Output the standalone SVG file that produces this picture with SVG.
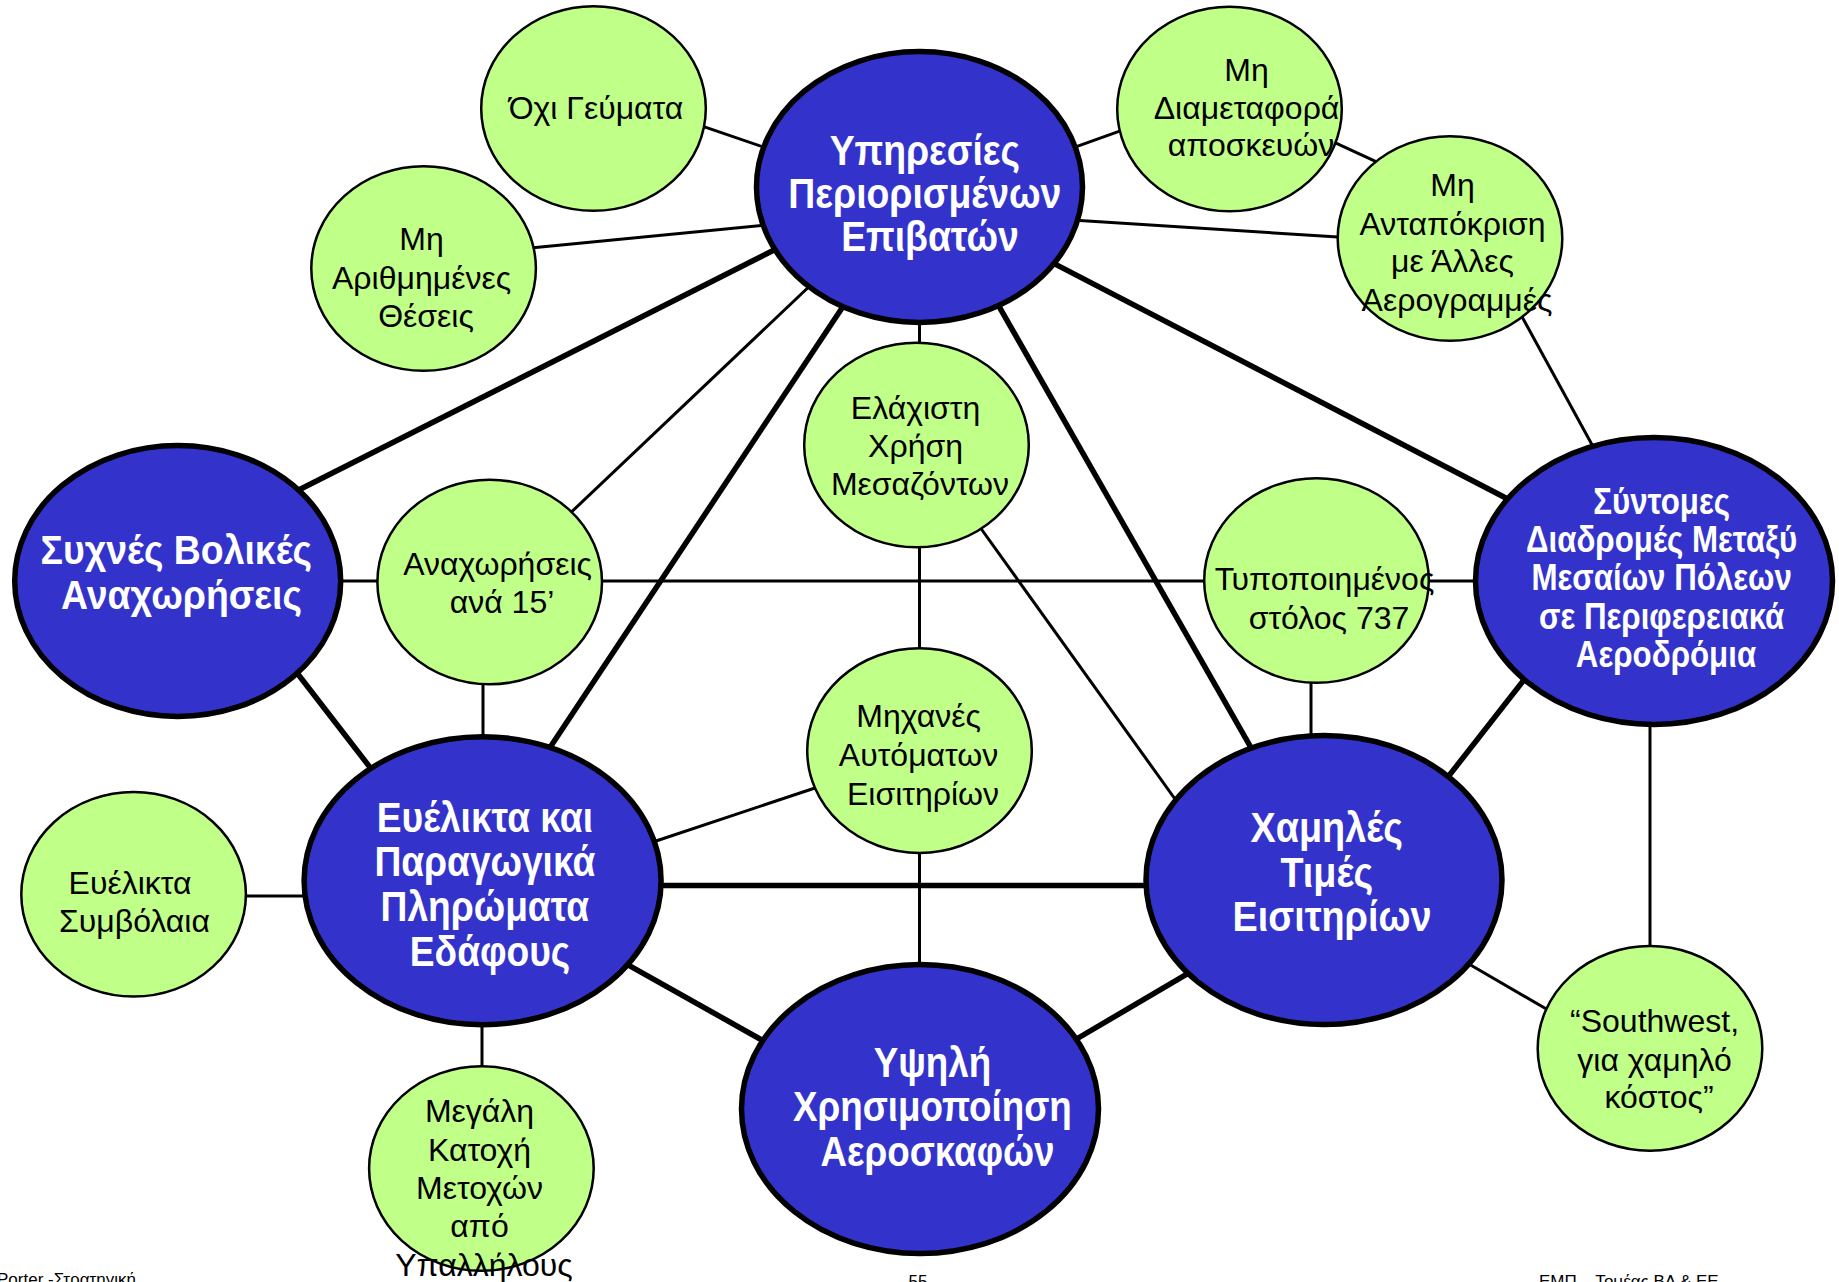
<svg xmlns="http://www.w3.org/2000/svg" width="1839" height="1282" viewBox="0 0 1839 1282">
  <style>
    .core { fill: #3333CC; stroke: #000; stroke-width: 5.5; }
    .act { fill: #C0FF88; stroke: #000; stroke-width: 2.5; }
    .ct { font-family: "Liberation Sans", Arial, sans-serif; font-weight: bold; fill: #fff; text-anchor: middle; }
    .at { font-family: "Liberation Sans", Arial, sans-serif; font-size: 32px; fill: #000; text-anchor: middle; }
    .thick { stroke: #000; stroke-width: 5.5; fill: none; }
    .thin { stroke: #000; stroke-width: 3; fill: none; }
    .foot { font-family: "Liberation Sans", Arial, sans-serif; font-size: 17px; fill: #000; }
  </style>
  <rect width="1839" height="1282" fill="#fff"/>

  <!-- links between activities -->
  <g id="connectors">
    <!-- thick links between core themes -->
    <line class="thick" x1="293.7" y1="492.5" x2="783" y2="245.5"/>
    <line class="thick" x1="545.5" y1="754.3" x2="847.5" y2="299.7"/>
    <line class="thick" x1="995" y1="299.3" x2="1255" y2="754.7"/>
    <line class="thick" x1="1046" y1="259.4" x2="1515" y2="502.8"/>
    <line class="thick" x1="294" y1="669" x2="376.7" y2="776"/>
    <line class="thick" x1="655" y1="885.5" x2="1152" y2="885.5"/>
    <line class="thick" x1="624" y1="962.6" x2="770.7" y2="1045"/>
    <line class="thick" x1="1068" y1="1044" x2="1196.6" y2="968.4"/>
    <line class="thick" x1="1444.8" y1="781" x2="1527" y2="676"/>
    <!-- thin links to supporting activities -->
    <line class="thin" x1="695" y1="123.7" x2="770" y2="149.3"/>
    <line class="thin" x1="528" y1="248.3" x2="765" y2="225.2"/>
    <line class="thin" x1="1068" y1="149.7" x2="1128" y2="128.2"/>
    <line class="thin" x1="1330" y1="140.3" x2="1382" y2="164.4"/>
    <line class="thin" x1="1072" y1="219.9" x2="1346" y2="237.6"/>
    <line class="thin" x1="1517" y1="307.6" x2="1596" y2="452"/>
    <line class="thin" x1="919.5" y1="187" x2="919.5" y2="1109"/>
    <line class="thin" x1="815" y1="281" x2="563" y2="520"/>
    <line class="thin" x1="977" y1="523" x2="1180" y2="806"/>
    <line class="thin" x1="300" y1="581" x2="1480" y2="581"/>
    <line class="thin" x1="483" y1="660" x2="483" y2="760"/>
    <line class="thin" x1="1311" y1="660" x2="1311" y2="760"/>
    <line class="thin" x1="650" y1="843" x2="824" y2="785"/>
    <line class="thin" x1="240" y1="896" x2="310" y2="896"/>
    <line class="thin" x1="482" y1="1020" x2="482" y2="1075"/>
    <line class="thin" x1="1650" y1="720" x2="1650" y2="950"/>
    <line class="thin" x1="1462" y1="960" x2="1555" y2="1014"/>
  </g>

  <!-- core themes -->
  <g id="node-limited-service">
    <ellipse class="core" cx="919.5" cy="187" rx="163" ry="135.5"/>
    <text class="ct" font-size="42" transform="translate(930 0) scale(0.89 1)">
      <tspan x="0" y="165">Υπηρεσίες</tspan>
      <tspan x="0" y="208">Περιορισμένων</tspan>
      <tspan x="0" y="251">Επιβατών</tspan>
    </text>
  </g>
  <g id="node-frequent-departures">
    <ellipse class="core" cx="177.7" cy="581" rx="163" ry="135.5"/>
    <text class="ct" font-size="40" transform="translate(181.5 0) scale(0.935 1)">
      <tspan x="0" y="564">Συχνές Βολικές</tspan>
      <tspan x="0" y="609">Αναχωρήσεις</tspan>
    </text>
  </g>
  <g id="node-short-haul">
    <ellipse class="core" cx="1654" cy="581" rx="178.5" ry="143.5"/>
    <text class="ct" font-size="37" transform="translate(1666 0) scale(0.845 1)">
      <tspan x="0" y="514">Σύντομες</tspan>
      <tspan x="0" y="552">Διαδρομές Μεταξύ</tspan>
      <tspan x="0" y="590">Μεσαίων Πόλεων</tspan>
      <tspan x="0" y="629">σε Περιφερειακά</tspan>
      <tspan x="0" y="667">Αεροδρόμια</tspan>
    </text>
  </g>
  <g id="node-ground-crews">
    <ellipse class="core" cx="482.6" cy="880.7" rx="178.5" ry="144"/>
    <text class="ct" font-size="42" transform="translate(490 0) scale(0.885 1)">
      <tspan x="0" y="832">Ευέλικτα και</tspan>
      <tspan x="0" y="876">Παραγωγικά</tspan>
      <tspan x="0" y="921">Πληρώματα</tspan>
      <tspan x="0" y="966">Εδάφους</tspan>
    </text>
  </g>
  <g id="node-low-fares">
    <ellipse class="core" cx="1324" cy="880" rx="178" ry="144.5"/>
    <text class="ct" font-size="42" transform="translate(1332 0) scale(0.9 1)">
      <tspan x="0" y="842">Χαμηλές</tspan>
      <tspan x="0" y="887">Τιμές</tspan>
      <tspan x="0" y="931">Εισιτηρίων</tspan>
    </text>
  </g>
  <g id="node-aircraft-use">
    <ellipse class="core" cx="920" cy="1109" rx="178.5" ry="144.5"/>
    <text class="ct" font-size="42" transform="translate(937.5 0) scale(0.875 1)">
      <tspan x="0" y="1077">Υψηλή</tspan>
      <tspan x="0" y="1121">Χρησιμοποίηση</tspan>
      <tspan x="0" y="1166">Αεροσκαφών</tspan>
    </text>
  </g>

  <!-- supporting activities -->
  <g id="node-no-meals">
    <ellipse class="act" cx="593.5" cy="108.5" rx="112.3" ry="102.3"/>
    <text class="at"><tspan x="596" y="118.5">Όχι Γεύματα</tspan></text>
  </g>
  <g id="node-unassigned-seats">
    <ellipse class="act" cx="423.6" cy="268.5" rx="112.3" ry="102.3"/>
    <text class="at">
      <tspan x="426" y="250">Μη</tspan>
      <tspan x="426" y="288.5">Αριθμημένες</tspan>
      <tspan x="426" y="327">Θέσεις</tspan>
    </text>
  </g>
  <g id="node-no-baggage-transfer">
    <ellipse class="act" cx="1229.5" cy="109" rx="112.3" ry="102.3"/>
    <text class="at">
      <tspan x="1251" y="81">Μη</tspan>
      <tspan x="1251" y="118.5">Διαμεταφορά</tspan>
      <tspan x="1251" y="156">αποσκευών</tspan>
    </text>
  </g>
  <g id="node-no-connections">
    <ellipse class="act" cx="1450" cy="238.5" rx="112.3" ry="102.3"/>
    <text class="at">
      <tspan x="1457" y="196">Μη</tspan>
      <tspan x="1457" y="234.5">Ανταπόκριση</tspan>
      <tspan x="1457" y="272">με Άλλες</tspan>
      <tspan x="1457" y="311">Αερογραμμές</tspan>
    </text>
  </g>
  <g id="node-few-agents">
    <ellipse class="act" cx="916.5" cy="445" rx="112.3" ry="102.3"/>
    <text class="at">
      <tspan x="920" y="418.7">Ελάχιστη</tspan>
      <tspan x="920" y="457">Χρήση</tspan>
      <tspan x="920" y="495">Μεσαζόντων</tspan>
    </text>
  </g>
  <g id="node-15-min-departures">
    <ellipse class="act" cx="489.7" cy="582" rx="112.3" ry="102.3"/>
    <text class="at">
      <tspan x="502" y="574.7">Αναχωρήσεις</tspan>
      <tspan x="502" y="613">ανά 15’</tspan>
    </text>
  </g>
  <g id="node-737-fleet">
    <ellipse class="act" cx="1316.5" cy="580.5" rx="112.3" ry="102.3"/>
    <text class="at">
      <tspan x="1329" y="590">Τυποποιημένος</tspan>
      <tspan x="1329" y="628.6">στόλος 737</tspan>
    </text>
  </g>
  <g id="node-ticket-machines">
    <ellipse class="act" cx="919.5" cy="750.6" rx="112.3" ry="102.3"/>
    <text class="at">
      <tspan x="923" y="727">Μηχανές</tspan>
      <tspan x="923" y="766">Αυτόματων</tspan>
      <tspan x="923" y="804.5">Εισιτηρίων</tspan>
    </text>
  </g>
  <g id="node-flexible-contracts">
    <ellipse class="act" cx="133.6" cy="894.3" rx="112.3" ry="102.3"/>
    <text class="at">
      <tspan x="134.5" y="893.7">Ευέλικτα</tspan>
      <tspan x="134.5" y="932">Συμβόλαια</tspan>
    </text>
  </g>
  <g id="node-employee-ownership">
    <ellipse class="act" cx="481.4" cy="1168.5" rx="112.3" ry="102.3"/>
    <text class="at">
      <tspan x="484" y="1122">Μεγάλη</tspan>
      <tspan x="484" y="1161">Κατοχή</tspan>
      <tspan x="484" y="1198.6">Μετοχών</tspan>
      <tspan x="484" y="1237">από</tspan>
      <tspan x="484" y="1276">Υπαλλήλους</tspan>
    </text>
  </g>
  <g id="node-southwest-quote">
    <ellipse class="act" cx="1650" cy="1048.4" rx="112.3" ry="102.3"/>
    <text class="at">
      <tspan x="1659" y="1032">“Southwest,</tspan>
      <tspan x="1659" y="1071">για χαμηλό</tspan>
      <tspan x="1659" y="1108">κόστος”</tspan>
    </text>
  </g>

  <!-- page footer -->
  <g id="footer">
    <text class="foot" x="-3" y="1285">Porter -Στρατηγική</text>
    <text class="foot" x="918" y="1287" text-anchor="middle" font-size="19">55</text>
    <text class="foot" x="1539" y="1287">ΕΜΠ – Τομέας ΒΔ &amp; ΕΕ</text>
  </g>
</svg>
